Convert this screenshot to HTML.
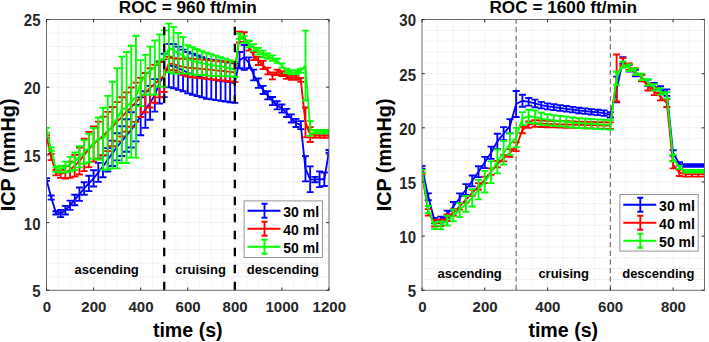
<!DOCTYPE html><html><head><meta charset="utf-8"><style>html,body{margin:0;padding:0;background:#fff;width:709px;height:342px;overflow:hidden}svg{display:block}text{font-family:"Liberation Sans", sans-serif;font-weight:bold}</style></head><body>
<svg width="709" height="342" viewBox="0 0 709 342">
<rect width="709" height="342" fill="#fff"/>
<clipPath id="clipL"><rect x="46.5" y="19.5" width="282.5" height="270.8"/></clipPath>
<path d="M58.27 19.5V290.3M70.04 19.5V290.3M81.81 19.5V290.3M93.58 19.5V290.3M105.35 19.5V290.3M117.12 19.5V290.3M128.9 19.5V290.3M140.67 19.5V290.3M152.44 19.5V290.3M164.21 19.5V290.3M175.98 19.5V290.3M187.75 19.5V290.3M199.52 19.5V290.3M211.29 19.5V290.3M223.06 19.5V290.3M234.83 19.5V290.3M246.6 19.5V290.3M258.38 19.5V290.3M270.15 19.5V290.3M281.92 19.5V290.3M293.69 19.5V290.3M305.46 19.5V290.3M317.23 19.5V290.3" stroke="#e4e4e4" stroke-width="0.8" stroke-dasharray="0.9 1.2" fill="none"/>
<path d="M46.5 276.76H329M46.5 263.22H329M46.5 249.68H329M46.5 236.14H329M46.5 222.6H329M46.5 209.06H329M46.5 195.52H329M46.5 181.98H329M46.5 168.44H329M46.5 154.9H329M46.5 141.36H329M46.5 127.82H329M46.5 114.28H329M46.5 100.74H329M46.5 87.2H329M46.5 73.66H329M46.5 60.12H329M46.5 46.58H329M46.5 33.04H329" stroke="#d6d6d6" stroke-width="0.8" stroke-dasharray="0.9 1.4" fill="none"/>
<g clip-path="url(#clipL)" fill="none" stroke-width="1.85">
<path d="M46.5 178.19V180.9M43 178.19h7M43 180.9h7M51.21 195.52V199.58M47.71 195.52h7M47.71 199.58h7M55.92 211.23V214.48M52.42 211.23h7M52.42 214.48h7M60.62 209.87V217.18M57.12 209.87h7M57.12 217.18h7M65.33 205.81V214.48M61.83 205.81h7M61.83 214.48h7M70.04 200.67V209.87M66.54 200.67h7M66.54 209.87h7M74.75 194.71V205.27M71.25 194.71h7M71.25 205.27h7M79.46 187.53V200.8M75.96 187.53h7M75.96 200.8h7M84.17 182.25V194.71M80.67 182.25h7M80.67 194.71h7M88.88 175.75V191.19M85.38 175.75h7M85.38 191.19h7M93.58 170.2V186.45M90.08 170.2h7M90.08 186.45h7M98.29 162.89V181.84M94.79 162.89h7M94.79 181.84h7M103 155.58V177.24M99.5 155.58h7M99.5 177.24h7M107.71 148.13V171.6M104.21 148.13h7M104.21 171.6h7M112.42 140.68V165.96M108.92 140.68h7M108.92 165.96h7M117.12 133.24V160.32M113.62 133.24h7M113.62 160.32h7M121.83 126.24V156.03M118.33 126.24h7M118.33 156.03h7M126.54 119.24V151.74M123.04 119.24h7M123.04 151.74h7M131.25 112.25V147.45M127.75 112.25h7M127.75 147.45h7M135.96 104.8V141.36M132.46 104.8h7M132.46 141.36h7M140.67 97.36V135.27M137.17 97.36h7M137.17 135.27h7M145.38 91.26V127.82M141.88 91.26h7M141.88 127.82h7M150.08 85.85V119.7M146.58 85.85h7M146.58 119.7h7M154.79 79.08V111.57M151.29 79.08h7M151.29 111.57h7M159.5 61.47V103.45M156 61.47h7M156 103.45h7M164.21 53.76V97.08M160.71 53.76h7M160.71 97.08h7M168.92 43.87V87.2M165.42 43.87h7M165.42 87.2h7M173.62 44.14V88.28M170.12 44.14h7M170.12 88.28h7M178.33 46.58V89.91M174.83 46.58h7M174.83 89.91h7M183.04 49.56V91.26M179.54 49.56h7M179.54 91.26h7M187.75 52V93.43M184.25 52h7M184.25 93.43h7M192.46 53.69V94.71M188.96 53.69h7M188.96 94.71h7M197.17 55.38V96M193.67 55.38h7M193.67 96h7M201.88 57.14V97.36M198.38 57.14h7M198.38 97.36h7M206.58 58.9V98.71M203.08 58.9h7M203.08 98.71h7M211.29 59.65V99.41M207.79 59.65h7M207.79 99.41h7M216 60.39V100.11M212.5 60.39h7M212.5 100.11h7M220.71 61.14V100.81M217.21 61.14h7M217.21 100.81h7M225.42 61.88V101.51M221.92 61.88h7M221.92 101.51h7M230.12 62.62V102.21M226.62 62.62h7M226.62 102.21h7M234.83 63.37V102.91M231.33 63.37h7M231.33 102.91h7M239.54 52V68.24M236.04 52h7M236.04 68.24h7M244.25 44.96V69.87M240.75 44.96h7M240.75 69.87h7M248.96 57.41V68.24M245.46 57.41h7M245.46 68.24h7M253.67 69.6V80.43M250.17 69.6h7M250.17 80.43h7M258.38 78.4V87.88M254.88 78.4h7M254.88 87.88h7M263.08 85.85V93.97M259.58 85.85h7M259.58 93.97h7M267.79 91.26V99.39M264.29 91.26h7M264.29 99.39h7M272.5 96.95V105.07M269 96.95h7M269 105.07h7M277.21 101.28V109.41M273.71 101.28h7M273.71 109.41h7M281.92 104.53V112.66M278.42 104.53h7M278.42 112.66h7M286.62 108.86V116.99M283.12 108.86h7M283.12 116.99h7M291.33 114.42V122.54M287.83 114.42h7M287.83 122.54h7M296.04 118.88V127.01M292.54 118.88h7M292.54 127.01h7M300.75 121.05V129.17M297.25 121.05h7M297.25 129.17h7M305.46 156.12V181.3M301.96 156.12h7M301.96 181.3h7M310.17 166.41V192.13M306.67 166.41h7M306.67 192.13h7M314.88 176.83V182.25M311.38 176.83h7M311.38 182.25h7M319.58 171.42V187.13M316.08 171.42h7M316.08 187.13h7M324.29 172.5V186.04M320.79 172.5h7M320.79 186.04h7M329 150.03V152.73M325.5 150.03h7M325.5 152.73h7" stroke="#0000ff"/>
<polyline points="46.5,179.54 51.21,197.55 55.92,212.85 60.62,213.53 65.33,210.14 70.04,205.27 74.75,199.99 79.46,194.17 84.17,188.48 88.88,183.47 93.58,178.32 98.29,172.37 103,166.41 107.71,159.86 112.42,153.32 117.12,146.78 121.83,141.13 126.54,135.49 131.25,129.85 135.96,123.08 140.67,116.31 145.38,109.54 150.08,102.77 154.79,95.32 159.5,82.46 164.21,75.42 168.92,65.54 173.62,66.21 178.33,68.24 183.04,70.41 187.75,72.71 192.46,74.2 197.17,75.69 201.88,77.25 206.58,78.81 211.29,79.53 216,80.25 220.71,80.97 225.42,81.69 230.12,82.42 234.83,83.14 239.54,60.12 244.25,57.41 248.96,62.83 253.67,75.01 258.38,83.14 263.08,89.91 267.79,95.32 272.5,101.01 277.21,105.34 281.92,108.59 286.62,112.93 291.33,118.48 296.04,122.95 300.75,125.11 305.46,168.71 310.17,179.27 314.88,179.54 319.58,179.27 324.29,179.27 329,151.38" stroke="#0000ff" stroke-linejoin="round"/>
<path d="M46.5 135.27V137.98M43 135.27h7M43 137.98h7M51.21 153.82V160.05M47.71 153.82h7M47.71 160.05h7M55.92 169.93V175.35M52.42 169.93h7M52.42 175.35h7M60.62 169.79V177.92M57.12 169.79h7M57.12 177.92h7M65.33 166.41V178.6M61.83 166.41h7M61.83 178.6h7M70.04 161.67V177.92M66.54 161.67h7M66.54 177.92h7M74.75 154.9V176.56M71.25 154.9h7M71.25 176.56h7M79.46 147.45V174.53M75.96 147.45h7M75.96 174.53h7M84.17 138.65V171.15M80.67 138.65h7M80.67 171.15h7M88.88 131.88V167.09M85.38 131.88h7M85.38 167.09h7M93.58 126.47V161.67M90.08 126.47h7M90.08 161.67h7M98.29 121.59V158.42M94.79 121.59h7M94.79 158.42h7M103 116.72V155.17M99.5 116.72h7M99.5 155.17h7M107.71 111.84V151.11M104.21 111.84h7M104.21 151.11h7M112.42 106.97V146.23M108.92 106.97h7M108.92 146.23h7M117.12 102.09V141.36M113.62 102.09h7M113.62 141.36h7M121.83 97.22V136.49M118.33 97.22h7M118.33 136.49h7M126.54 92.35V131.61M123.04 92.35h7M123.04 131.61h7M131.25 87.47V126.74M127.75 87.47h7M127.75 126.74h7M135.96 82.6V121.86M132.46 82.6h7M132.46 121.86h7M140.67 77.72V116.99M137.17 77.72h7M137.17 116.99h7M145.38 72.98V112.25M141.88 72.98h7M141.88 112.25h7M150.08 68.24V107.51M146.58 68.24h7M146.58 107.51h7M154.79 64.86V102.77M151.29 64.86h7M151.29 102.77h7M159.5 62.15V97.36M156 62.15h7M156 97.36h7M164.21 59.44V91.94M160.71 59.44h7M160.71 91.94h7M168.92 56.74V70.28M165.42 56.74h7M165.42 70.28h7M173.62 58.09V70.28M170.12 58.09h7M170.12 70.28h7M178.33 58.77V72.31M174.83 58.77h7M174.83 72.31h7M183.04 58.77V75.01M179.54 58.77h7M179.54 75.01h7M187.75 58.5V76.64M184.25 58.5h7M184.25 76.64h7M192.46 58.81V77.23M188.96 58.81h7M188.96 77.23h7M197.17 59.13V77.81M193.67 59.13h7M193.67 77.81h7M201.88 59.44V78.4M198.38 59.44h7M198.38 78.4h7M206.58 59.89V78.92M203.08 59.89h7M203.08 78.92h7M211.29 60.33V79.44M207.79 60.33h7M207.79 79.44h7M216 60.78V79.97M212.5 60.78h7M212.5 79.97h7M220.71 61.22V80.49M217.21 61.22h7M217.21 80.49h7M225.42 61.67V81.01M221.92 61.67h7M221.92 81.01h7M230.12 62.11V81.53M226.62 62.11h7M226.62 81.53h7M234.83 62.56V82.05M231.33 62.56h7M231.33 82.05h7M239.54 31.69V42.52M236.04 31.69h7M236.04 42.52h7M244.25 32.23V41.98M240.75 32.23h7M240.75 41.98h7M248.96 41.16V50.64M245.46 41.16h7M245.46 50.64h7M253.67 52V60.12M250.17 52h7M250.17 60.12h7M258.38 56.87V64.99M254.88 56.87h7M254.88 64.99h7M263.08 60.93V69.06M259.58 60.93h7M259.58 69.06h7M267.79 67.57V74.34M264.29 67.57h7M264.29 74.34h7M272.5 72.31V79.35M269 72.31h7M269 79.35h7M277.21 69.6V75.01M273.71 69.6h7M273.71 75.01h7M281.92 71.22V76.1M278.42 71.22h7M278.42 76.1h7M286.62 74.74V78.81M283.12 74.74h7M283.12 78.81h7M291.33 75.69V79.75M287.83 75.69h7M287.83 79.75h7M296.04 75.83V79.89M292.54 75.83h7M292.54 79.89h7M300.75 77.86V81.92M297.25 77.86h7M297.25 81.92h7M305.46 107.51V137.3M301.96 107.51h7M301.96 137.3h7M310.17 127.14V142.04M306.67 127.14h7M306.67 142.04h7M314.88 133.64V137.7M311.38 133.64h7M311.38 137.7h7M319.58 133.64V137.7M316.08 133.64h7M316.08 137.7h7M324.29 133.64V137.7M320.79 133.64h7M320.79 137.7h7M329 133.64V137.7M325.5 133.64h7M325.5 137.7h7" stroke="#ff0000"/>
<polyline points="46.5,136.62 51.21,156.93 55.92,172.64 60.62,173.86 65.33,172.5 70.04,169.79 74.75,165.73 79.46,160.99 84.17,154.9 88.88,149.48 93.58,144.07 98.29,140.01 103,135.94 107.71,131.48 112.42,126.6 117.12,121.73 121.83,116.85 126.54,111.98 131.25,107.1 135.96,102.23 140.67,97.36 145.38,92.62 150.08,87.88 154.79,83.82 159.5,79.75 164.21,75.69 168.92,63.5 173.62,64.18 178.33,65.54 183.04,66.89 187.75,67.57 192.46,68.02 197.17,68.47 201.88,68.92 206.58,69.4 211.29,69.89 216,70.37 220.71,70.86 225.42,71.34 230.12,71.82 234.83,72.31 239.54,37.1 244.25,37.1 248.96,45.9 253.67,56.06 258.38,60.93 263.08,64.99 267.79,70.95 272.5,75.83 277.21,72.31 281.92,73.66 286.62,76.77 291.33,77.72 296.04,77.86 300.75,79.89 305.46,122.4 310.17,134.59 314.88,135.67 319.58,135.67 324.29,135.67 329,135.67" stroke="#ff0000" stroke-linejoin="round"/>
<path d="M46.5 127.82V132.69M43 127.82h7M43 132.69h7M51.21 147.45V150.7M47.71 147.45h7M47.71 150.7h7M55.92 166.95V171.83M52.42 166.95h7M52.42 171.83h7M60.62 165.73V172.5M57.12 165.73h7M57.12 172.5h7M65.33 161.67V172.5M61.83 161.67h7M61.83 172.5h7M70.04 156.8V171.69M66.54 156.8h7M66.54 171.69h7M74.75 152.46V170.06M71.25 152.46h7M71.25 170.06h7M79.46 146.23V167.36M75.96 146.23h7M75.96 167.36h7M84.17 140.14V163.7M80.67 140.14h7M80.67 163.7h7M88.88 133.91V162.35M85.38 133.91h7M85.38 162.35h7M93.58 127.96V158.56M90.08 127.96h7M90.08 158.56h7M98.29 117.53V159.77M94.79 117.53h7M94.79 159.77h7M103 107.78V169.79M99.5 107.78h7M99.5 169.79h7M107.71 95.87V169.79M104.21 95.87h7M104.21 169.79h7M112.42 81.78V168.44M108.92 81.78h7M108.92 168.44h7M117.12 68.24V168.44M113.62 68.24h7M113.62 168.44h7M121.83 56.6V163.02M118.33 56.6h7M118.33 163.02h7M126.54 52V163.02M123.04 52h7M123.04 163.02h7M131.25 45.77V157.61M127.75 45.77h7M127.75 157.61h7M135.96 35.75V157.61M132.46 35.75h7M132.46 157.61h7M140.67 60.12V106.16M137.17 60.12h7M137.17 106.16h7M145.38 54.84V94.65M141.88 54.84h7M141.88 94.65h7M150.08 46.58V94.78M146.58 46.58h7M146.58 94.78h7M154.79 40.49V94.65M151.29 40.49h7M151.29 94.65h7M159.5 34.39V86.66M156 34.39h7M156 86.66h7M164.21 30.33V86.66M160.71 30.33h7M160.71 86.66h7M168.92 23.56V72.31M165.42 23.56h7M165.42 72.31h7M173.62 26.81V73.66M170.12 26.81h7M170.12 73.66h7M178.33 33.04V73.66M174.83 33.04h7M174.83 73.66h7M183.04 37.1V73.66M179.54 37.1h7M179.54 73.66h7M187.75 45.23V73.66M184.25 45.23h7M184.25 73.66h7M192.46 47.26V74.34M188.96 47.26h7M188.96 74.34h7M197.17 49.29V75.01M193.67 49.29h7M193.67 75.01h7M201.88 51.18V75.01M198.38 51.18h7M198.38 75.01h7M206.58 52.67V75.69M203.08 52.67h7M203.08 75.69h7M211.29 54.16V75.83M207.79 54.16h7M207.79 75.83h7M216 55.65V75.96M212.5 55.65h7M212.5 75.96h7M220.71 57.14V76.1M217.21 57.14h7M217.21 76.1h7M225.42 58.63V76.23M221.92 58.63h7M221.92 76.23h7M230.12 60.12V76.37M226.62 60.12h7M226.62 76.37h7M234.83 62.15V77.04M231.33 62.15h7M231.33 77.04h7M239.54 33.45V38.86M236.04 33.45h7M236.04 38.86h7M244.25 36.15V42.92M240.75 36.15h7M240.75 42.92h7M248.96 40.49V47.26M245.46 40.49h7M245.46 47.26h7M253.67 44.14V50.91M250.17 44.14h7M250.17 50.91h7M258.38 47.8V54.57M254.88 47.8h7M254.88 54.57h7M263.08 50.64V57.41M259.58 50.64h7M259.58 57.41h7M267.79 53.35V58.77M264.29 53.35h7M264.29 58.77h7M272.5 55.38V60.8M269 55.38h7M269 60.8h7M277.21 58.77V62.83M273.71 58.77h7M273.71 62.83h7M281.92 63.5V67.57M278.42 63.5h7M278.42 67.57h7M286.62 68.65V72.71M283.12 68.65h7M283.12 72.71h7M291.33 70.28V74.34M287.83 70.28h7M287.83 74.34h7M296.04 70.28V74.34M292.54 70.28h7M292.54 74.34h7M300.75 68.65V72.71M297.25 68.65h7M297.25 72.71h7M305.46 30.6V100.47M301.96 30.6h7M301.96 100.47h7M310.17 121.05V135.94M306.67 121.05h7M306.67 135.94h7M314.88 129.99V133.24M311.38 129.99h7M311.38 133.24h7M319.58 129.99V133.24M316.08 129.99h7M316.08 133.24h7M324.29 129.99V133.24M320.79 129.99h7M320.79 133.24h7M329 129.99V133.24M325.5 129.99h7M325.5 133.24h7" stroke="#00ff00"/>
<polyline points="46.5,130.26 51.21,149.08 55.92,169.39 60.62,169.12 65.33,167.09 70.04,164.24 74.75,161.26 79.46,156.8 84.17,151.92 88.88,148.13 93.58,143.26 98.29,138.65 103,138.79 107.71,132.83 112.42,125.11 117.12,118.34 121.83,109.81 126.54,107.51 131.25,101.69 135.96,96.68 140.67,83.14 145.38,74.74 150.08,70.68 154.79,67.57 159.5,60.53 164.21,58.5 168.92,47.93 173.62,50.24 178.33,53.35 183.04,55.38 187.75,59.44 192.46,60.8 197.17,62.15 201.88,63.1 206.58,64.18 211.29,64.99 216,65.81 220.71,66.62 225.42,67.43 230.12,68.24 234.83,69.6 239.54,36.15 244.25,39.54 248.96,43.87 253.67,47.53 258.38,51.18 263.08,54.03 267.79,56.06 272.5,58.09 277.21,60.8 281.92,65.54 286.62,70.68 291.33,72.31 296.04,72.31 300.75,70.68 305.46,65.54 310.17,128.5 314.88,131.61 319.58,131.61 324.29,131.61 329,131.61" stroke="#00ff00" stroke-linejoin="round"/>
</g>
<line x1="164.21" y1="290.3" x2="164.21" y2="19.5" stroke="#000" stroke-width="2.3" stroke-dasharray="8.5 8.5"/>
<line x1="234.83" y1="290.3" x2="234.83" y2="19.5" stroke="#000" stroke-width="2.3" stroke-dasharray="8.5 8.5"/>
<rect x="46.5" y="19.5" width="282.5" height="270.8" fill="none" stroke="#6e6e6e" stroke-width="1"/>
<path d="M46.5 290.3v-2.8M46.5 19.5v2.8M93.58 290.3v-2.8M93.58 19.5v2.8M140.67 290.3v-2.8M140.67 19.5v2.8M187.75 290.3v-2.8M187.75 19.5v2.8M234.83 290.3v-2.8M234.83 19.5v2.8M281.92 290.3v-2.8M281.92 19.5v2.8M329 290.3v-2.8M329 19.5v2.8M46.5 290.3h2.8M329 290.3h-2.8M46.5 222.6h2.8M329 222.6h-2.8M46.5 154.9h2.8M329 154.9h-2.8M46.5 87.2h2.8M329 87.2h-2.8M46.5 19.5h2.8M329 19.5h-2.8" stroke="#262626" stroke-width="1" fill="none"/>
<text transform="translate(46.8 311.5)" font-size="15" text-anchor="middle" fill="#262626">0</text>
<text transform="translate(93.88 311.5)" font-size="15" text-anchor="middle" fill="#262626">200</text>
<text transform="translate(140.97 311.5)" font-size="15" text-anchor="middle" fill="#262626">400</text>
<text transform="translate(188.05 311.5)" font-size="15" text-anchor="middle" fill="#262626">600</text>
<text transform="translate(235.13 311.5)" font-size="15" text-anchor="middle" fill="#262626">800</text>
<text transform="translate(282.22 311.5)" font-size="15" text-anchor="middle" fill="#262626">1000</text>
<text transform="translate(329.3 311.5)" font-size="15" text-anchor="middle" fill="#262626">1200</text>
<text transform="translate(40.5 297.2) scale(1 1.05)" font-size="15" text-anchor="end" fill="#262626">5</text>
<text transform="translate(40.5 229.5) scale(1 1.05)" font-size="15" text-anchor="end" fill="#262626">10</text>
<text transform="translate(40.5 161.8) scale(1 1.05)" font-size="15" text-anchor="end" fill="#262626">15</text>
<text transform="translate(40.5 94.1) scale(1 1.05)" font-size="15" text-anchor="end" fill="#262626">20</text>
<text transform="translate(40.5 26.4) scale(1 1.05)" font-size="15" text-anchor="end" fill="#262626">25</text>
<text x="187.75" y="13.4" font-size="17.2" text-anchor="middle" fill="#000">ROC = 960 ft/min</text>
<text x="187.75" y="336.6" font-size="19.6" text-anchor="middle" fill="#000">time (s)</text>
<text transform="translate(15.3 154.9) rotate(-90)" x="0" y="0" font-size="19.8" text-anchor="middle" fill="#000">ICP (mmHg)</text>
<text x="74.5" y="273.9" font-size="13" fill="#000">ascending</text>
<text x="175.3" y="273.9" font-size="13" fill="#000">cruising</text>
<text x="246.7" y="273.9" font-size="13" fill="#000">descending</text>
<rect x="244.1" y="200.9" width="78.3" height="56.6" fill="#fff" stroke="#8a8a8a" stroke-width="0.9"/>
<path d="M247.5 210.8h33M264.5 203.8v14M261.5 203.8h6M261.5 217.8h6" stroke="#0000ff" stroke-width="1.9" fill="none"/>
<text x="283.3" y="216.6" font-size="14" fill="#000">30 ml</text>
<path d="M247.5 228.8h33M264.5 221.8v14M261.5 221.8h6M261.5 235.8h6" stroke="#ff0000" stroke-width="1.9" fill="none"/>
<text x="283.3" y="234.6" font-size="14" fill="#000">40 ml</text>
<path d="M247.5 246.8h33M264.5 239.8v14M261.5 239.8h6M261.5 253.8h6" stroke="#00ff00" stroke-width="1.9" fill="none"/>
<text x="283.3" y="252.6" font-size="14" fill="#000">50 ml</text>
<clipPath id="clipR"><rect x="422" y="19.5" width="282.5" height="270.8"/></clipPath>
<path d="M437.69 19.5V290.3M453.39 19.5V290.3M469.08 19.5V290.3M484.78 19.5V290.3M500.47 19.5V290.3M516.17 19.5V290.3M531.86 19.5V290.3M547.56 19.5V290.3M563.25 19.5V290.3M578.94 19.5V290.3M594.64 19.5V290.3M610.33 19.5V290.3M626.03 19.5V290.3M641.72 19.5V290.3M657.42 19.5V290.3M673.11 19.5V290.3M688.81 19.5V290.3" stroke="#e4e4e4" stroke-width="0.8" stroke-dasharray="0.9 1.2" fill="none"/>
<path d="M422 279.47H704.5M422 268.64H704.5M422 257.8H704.5M422 246.97H704.5M422 236.14H704.5M422 225.31H704.5M422 214.48H704.5M422 203.64H704.5M422 192.81H704.5M422 181.98H704.5M422 171.15H704.5M422 160.32H704.5M422 149.48H704.5M422 138.65H704.5M422 127.82H704.5M422 116.99H704.5M422 106.16H704.5M422 95.32H704.5M422 84.49H704.5M422 73.66H704.5M422 62.83H704.5M422 52H704.5M422 41.16H704.5M422 30.33H704.5" stroke="#d6d6d6" stroke-width="0.8" stroke-dasharray="0.9 1.4" fill="none"/>
<line x1="516.17" y1="290.3" x2="516.17" y2="19.5" stroke="#6a6a6a" stroke-width="1.1" stroke-dasharray="5.2 3.4"/>
<line x1="610.33" y1="290.3" x2="610.33" y2="19.5" stroke="#6a6a6a" stroke-width="1.1" stroke-dasharray="5.2 3.4"/>
<g clip-path="url(#clipR)" fill="none" stroke-width="1.85">
<path d="M422 165.84V168.66M418.5 165.84h7M418.5 168.66h7M428.28 193.35V200.29M424.78 193.35h7M424.78 200.29h7M434.56 217.94V223.36M431.06 217.94h7M431.06 223.36h7M440.83 216.64V223.14M437.33 216.64h7M437.33 223.14h7M447.11 210.68V218.27M443.61 210.68h7M443.61 218.27h7M453.39 202.02V210.68M449.89 202.02h7M449.89 210.68h7M459.67 193.35V203.1M456.17 193.35h7M456.17 203.1h7M465.94 184.15V194.98M462.44 184.15h7M462.44 194.98h7M472.22 175.48V186.31M468.72 175.48h7M468.72 186.31h7M478.5 166.27V177.11M475 166.27h7M475 177.11h7M484.78 156.85V168.12M481.28 156.85h7M481.28 168.12h7M491.06 146.56V158.91M487.56 146.56h7M487.56 158.91h7M497.33 133.78V148.94M493.83 133.78h7M493.83 148.94h7M503.61 127.17V140.17M500.11 127.17h7M500.11 140.17h7M509.89 119.15V133.24M506.39 119.15h7M506.39 133.24h7M516.17 90.99V116.99M512.67 90.99h7M512.67 116.99h7M522.44 94.78V106.7M518.94 94.78h7M518.94 106.7h7M528.72 98.03V105.61M525.22 98.03h7M525.22 105.61h7M535 99.66V107.24M531.5 99.66h7M531.5 107.24h7M541.28 101.93V108.43M537.78 101.93h7M537.78 108.43h7M547.56 103.34V109.41M544.06 103.34h7M544.06 109.41h7M553.83 104.23V110.16M550.33 104.23h7M550.33 110.16h7M560.11 105.12V110.92M556.61 105.12h7M556.61 110.92h7M566.39 106V111.68M562.89 106h7M562.89 111.68h7M572.67 106.89V112.44M569.17 106.89h7M569.17 112.44h7M578.94 107.78V113.2M575.44 107.78h7M575.44 113.2h7M585.22 108.43V113.85M581.72 108.43h7M581.72 113.85h7M591.5 109.08V114.5M588 109.08h7M588 114.5h7M597.78 109.73V115.15M594.28 109.73h7M594.28 115.15h7M604.06 110.38V115.8M600.56 110.38h7M600.56 115.8h7M610.33 112.11V117.53M606.83 112.11h7M606.83 117.53h7M616.61 76.69V102.26M613.11 76.69h7M613.11 102.26h7M622.89 57.09V63.59M619.39 57.09h7M619.39 63.59h7M629.17 64.99V71.49M625.67 64.99h7M625.67 71.49h7M635.44 69.87V76.37M631.94 69.87h7M631.94 76.37h7M641.72 74.53V81.03M638.22 74.53h7M638.22 81.03h7M648 79.62V86.12M644.5 79.62h7M644.5 86.12h7M654.28 82.87V89.37M650.78 82.87h7M650.78 89.37h7M660.56 86.12V92.62M657.06 86.12h7M657.06 92.62h7M666.83 89.37V95.87M663.33 89.37h7M663.33 95.87h7M673.11 150.24V155.87M669.61 150.24h7M669.61 155.87h7M679.39 162.27V165.52M675.89 162.27h7M675.89 165.52h7M685.67 164.22V166.82M682.17 164.22h7M682.17 166.82h7M691.94 164.22V166.82M688.44 164.22h7M688.44 166.82h7M698.22 164.22V166.82M694.72 164.22h7M694.72 166.82h7M704.5 164.22V166.82M701 164.22h7M701 166.82h7" stroke="#0000ff"/>
<polyline points="422,167.25 428.28,196.82 434.56,220.65 440.83,219.89 447.11,214.48 453.39,206.35 459.67,198.23 465.94,189.56 472.22,180.9 478.5,171.69 484.78,162.48 491.06,152.73 497.33,141.36 503.61,133.67 509.89,126.2 516.17,103.99 522.44,100.74 528.72,101.82 535,103.45 541.28,105.18 547.56,106.37 553.83,107.2 560.11,108.02 566.39,108.84 572.67,109.67 578.94,110.49 585.22,111.14 591.5,111.79 597.78,112.44 604.06,113.09 610.33,114.82 616.61,89.47 622.89,60.34 629.17,68.24 635.44,73.12 641.72,77.78 648,82.87 654.28,86.12 660.56,89.37 666.83,92.62 673.11,153.06 679.39,163.89 685.67,165.52 691.94,165.52 698.22,165.52 704.5,165.52" stroke="#0000ff" stroke-linejoin="round"/>
<path d="M422 172.34V174.51M418.5 172.34h7M418.5 174.51h7M428.28 209.06V215.56M424.78 209.06h7M424.78 215.56h7M434.56 220V226.5M431.06 220h7M431.06 226.5h7M440.83 219.46V225.96M437.33 219.46h7M437.33 225.96h7M447.11 214.48V220.98M443.61 214.48h7M443.61 220.98h7M453.39 209.06V215.56M449.89 209.06h7M449.89 215.56h7M459.67 203.1V209.6M456.17 203.1h7M456.17 209.6h7M465.94 196.06V202.56M462.44 196.06h7M462.44 202.56h7M472.22 189.56V196.06M468.72 189.56h7M468.72 196.06h7M478.5 183.06V189.56M475 183.06h7M475 189.56h7M484.78 176.56V183.06M481.28 176.56h7M481.28 183.06h7M491.06 168.33V174.83M487.56 168.33h7M487.56 174.83h7M497.33 160.86V167.36M493.83 160.86h7M493.83 167.36h7M503.61 154.9V161.4M500.11 154.9h7M500.11 161.4h7M509.89 149.16V156.74M506.39 149.16h7M506.39 156.74h7M516.17 142.44V151.11M512.67 142.44h7M512.67 151.11h7M522.44 126.74V133.24M518.94 126.74h7M518.94 133.24h7M528.72 121.32V127.82M525.22 121.32h7M525.22 127.82h7M535 120.24V126.74M531.5 120.24h7M531.5 126.74h7M541.28 120.51V127.01M537.78 120.51h7M537.78 127.01h7M547.56 120.78V127.28M544.06 120.78h7M544.06 127.28h7M553.83 120.94V127.44M550.33 120.94h7M550.33 127.44h7M560.11 121.1V127.6M556.61 121.1h7M556.61 127.6h7M566.39 121.27V127.77M562.89 121.27h7M562.89 127.77h7M572.67 121.43V127.93M569.17 121.43h7M569.17 127.93h7M578.94 121.59V128.09M575.44 121.59h7M575.44 128.09h7M585.22 121.75V128.25M581.72 121.75h7M581.72 128.25h7M591.5 121.92V128.42M588 121.92h7M588 128.42h7M597.78 122.08V128.58M594.28 122.08h7M594.28 128.58h7M604.06 122.24V128.74M600.56 122.24h7M600.56 128.74h7M610.33 122.4V128.9M606.83 122.4h7M606.83 128.9h7M616.61 54.49V101.5M613.11 54.49h7M613.11 101.5h7M622.89 57.95V65.54M619.39 57.95h7M619.39 65.54h7M629.17 63.37V69.87M625.67 63.37h7M625.67 69.87h7M635.44 68.24V74.74M631.94 68.24h7M631.94 74.74h7M641.72 74.74V81.24M638.22 74.74h7M638.22 81.24h7M648 82.87V90.45M644.5 82.87h7M644.5 90.45h7M654.28 87.52V95.11M650.78 87.52h7M650.78 95.11h7M660.56 92.83V100.42M657.06 92.83h7M657.06 100.42h7M666.83 99.44V107.02M663.33 99.44h7M663.33 107.02h7M673.11 160.86V168.44M669.61 160.86h7M669.61 168.44h7M679.39 169.52V176.02M675.89 169.52h7M675.89 176.02h7M685.67 171.58V176.56M682.17 171.58h7M682.17 176.56h7M691.94 171.58V176.56M688.44 171.58h7M688.44 176.56h7M698.22 171.58V176.56M694.72 171.58h7M694.72 176.56h7M704.5 171.58V176.56M701 171.58h7M701 176.56h7" stroke="#ff0000"/>
<polyline points="422,173.42 428.28,212.31 434.56,223.25 440.83,222.71 447.11,217.73 453.39,212.31 459.67,206.35 465.94,199.31 472.22,192.81 478.5,186.31 484.78,179.81 491.06,171.58 497.33,164.11 503.61,158.15 509.89,152.95 516.17,146.78 522.44,129.99 528.72,124.57 535,123.49 541.28,123.76 547.56,124.03 553.83,124.19 560.11,124.35 566.39,124.52 572.67,124.68 578.94,124.84 585.22,125 591.5,125.17 597.78,125.33 604.06,125.49 610.33,125.65 616.61,77.99 622.89,61.74 629.17,66.62 635.44,71.49 641.72,77.99 648,86.66 654.28,91.32 660.56,96.62 666.83,103.23 673.11,164.65 679.39,172.77 685.67,174.07 691.94,174.07 698.22,174.07 704.5,174.07" stroke="#ff0000" stroke-linejoin="round"/>
<path d="M422 169.85V173.1M418.5 169.85h7M418.5 173.1h7M428.28 206.03V213.18M424.78 206.03h7M424.78 213.18h7M434.56 222.6V229.1M431.06 222.6h7M431.06 229.1h7M440.83 221.52V229.1M437.33 221.52h7M437.33 229.1h7M447.11 215.78V225.52M443.61 215.78h7M443.61 225.52h7M453.39 209.49V221.41M449.89 209.49h7M449.89 221.41h7M459.67 203.1V217.18M456.17 203.1h7M456.17 217.18h7M465.94 195.95V211.77M462.44 195.95h7M462.44 211.77h7M472.22 189.13V206.46M468.72 189.13h7M468.72 206.46h7M478.5 179.81V199.31M475 179.81h7M475 199.31h7M484.78 170.82V192.49M481.28 170.82h7M481.28 192.49h7M491.06 161.4V183.06M487.56 161.4h7M487.56 183.06h7M497.33 149.48V173.31M493.83 149.48h7M493.83 173.31h7M503.61 140.82V164.65M500.11 140.82h7M500.11 164.65h7M509.89 133.24V154.9M506.39 133.24h7M506.39 154.9h7M516.17 127.82V147.32M512.67 127.82h7M512.67 147.32h7M522.44 112.11V125.11M518.94 112.11h7M518.94 125.11h7M528.72 109.73V122.73M525.22 109.73h7M525.22 122.73h7M535 110.49V123.49M531.5 110.49h7M531.5 123.49h7M541.28 112.76V124.68M537.78 112.76h7M537.78 124.68h7M547.56 114.28V125.11M544.06 114.28h7M544.06 125.11h7M553.83 115.08V125.7M550.33 115.08h7M550.33 125.7h7M560.11 115.88V126.28M556.61 115.88h7M556.61 126.28h7M566.39 116.68V126.87M562.89 116.68h7M562.89 126.87h7M572.67 117.49V127.45M569.17 117.49h7M569.17 127.45h7M578.94 118.29V128.04M575.44 118.29h7M575.44 128.04h7M585.22 118.66V128.36M581.72 118.66h7M581.72 128.36h7M591.5 119.02V128.69M588 119.02h7M588 128.69h7M597.78 119.39V129.01M594.28 119.39h7M594.28 129.01h7M604.06 119.76V129.34M600.56 119.76h7M600.56 129.34h7M610.33 120.13V129.66M606.83 120.13h7M606.83 129.66h7M616.61 71.71V84.71M613.11 71.71h7M613.11 84.71h7M622.89 61.42V67.92M619.39 61.42h7M619.39 67.92h7M629.17 64.45V70.95M625.67 64.45h7M625.67 70.95h7M635.44 68.35V74.85M631.94 68.35h7M631.94 74.85h7M641.72 73.66V80.16M638.22 73.66h7M638.22 80.16h7M648 79.08V85.58M644.5 79.08h7M644.5 85.58h7M654.28 84.17V90.67M650.78 84.17h7M650.78 90.67h7M660.56 88.07V94.57M657.06 88.07h7M657.06 94.57h7M666.83 92.07V98.57M663.33 92.07h7M663.33 98.57h7M673.11 155.01V161.51M669.61 155.01h7M669.61 161.51h7M679.39 165.62V168.87M675.89 165.62h7M675.89 168.87h7M685.67 169.85V172.45M682.17 169.85h7M682.17 172.45h7M691.94 169.85V172.45M688.44 169.85h7M688.44 172.45h7M698.22 169.85V172.45M694.72 169.85h7M694.72 172.45h7M704.5 169.85V172.45M701 169.85h7M701 172.45h7" stroke="#00ff00"/>
<polyline points="422,171.47 428.28,209.6 434.56,225.85 440.83,225.31 447.11,220.65 453.39,215.45 459.67,210.14 465.94,203.86 472.22,197.79 478.5,189.56 484.78,181.66 491.06,172.23 497.33,161.4 503.61,152.73 509.89,144.07 516.17,137.57 522.44,118.61 528.72,116.23 535,116.99 541.28,118.72 547.56,119.7 553.83,120.39 560.11,121.08 566.39,121.78 572.67,122.47 578.94,123.16 585.22,123.51 591.5,123.86 597.78,124.2 604.06,124.55 610.33,124.9 616.61,78.21 622.89,64.67 629.17,67.7 635.44,71.6 641.72,76.91 648,82.33 654.28,87.42 660.56,91.32 666.83,95.32 673.11,158.26 679.39,167.25 685.67,171.15 691.94,171.15 698.22,171.15 704.5,171.15" stroke="#00ff00" stroke-linejoin="round"/>
</g>
<rect x="422" y="19.5" width="282.5" height="270.8" fill="none" stroke="#6e6e6e" stroke-width="1"/>
<path d="M422 290.3v-2.8M422 19.5v2.8M484.78 290.3v-2.8M484.78 19.5v2.8M547.56 290.3v-2.8M547.56 19.5v2.8M610.33 290.3v-2.8M610.33 19.5v2.8M673.11 290.3v-2.8M673.11 19.5v2.8M422 290.3h2.8M704.5 290.3h-2.8M422 236.14h2.8M704.5 236.14h-2.8M422 181.98h2.8M704.5 181.98h-2.8M422 127.82h2.8M704.5 127.82h-2.8M422 73.66h2.8M704.5 73.66h-2.8M422 19.5h2.8M704.5 19.5h-2.8" stroke="#262626" stroke-width="1" fill="none"/>
<text transform="translate(422.3 311.5)" font-size="15" text-anchor="middle" fill="#262626">0</text>
<text transform="translate(485.08 311.5)" font-size="15" text-anchor="middle" fill="#262626">200</text>
<text transform="translate(547.86 311.5)" font-size="15" text-anchor="middle" fill="#262626">400</text>
<text transform="translate(610.63 311.5)" font-size="15" text-anchor="middle" fill="#262626">600</text>
<text transform="translate(673.41 311.5)" font-size="15" text-anchor="middle" fill="#262626">800</text>
<text transform="translate(416 297.2) scale(1 1.05)" font-size="15" text-anchor="end" fill="#262626">5</text>
<text transform="translate(416 243.04) scale(1 1.05)" font-size="15" text-anchor="end" fill="#262626">10</text>
<text transform="translate(416 188.88) scale(1 1.05)" font-size="15" text-anchor="end" fill="#262626">15</text>
<text transform="translate(416 134.72) scale(1 1.05)" font-size="15" text-anchor="end" fill="#262626">20</text>
<text transform="translate(416 80.56) scale(1 1.05)" font-size="15" text-anchor="end" fill="#262626">25</text>
<text transform="translate(416 26.4) scale(1 1.05)" font-size="15" text-anchor="end" fill="#262626">30</text>
<text x="563.25" y="13.4" font-size="17.2" text-anchor="middle" fill="#000">ROC = 1600 ft/min</text>
<text x="563.25" y="336.6" font-size="19.6" text-anchor="middle" fill="#000">time (s)</text>
<text transform="translate(390.8 154.9) rotate(-90)" x="0" y="0" font-size="19.8" text-anchor="middle" fill="#000">ICP (mmHg)</text>
<text x="437.5" y="277.8" font-size="13" fill="#000">ascending</text>
<text x="538.4" y="277.8" font-size="13" fill="#000">cruising</text>
<text x="622.2" y="277.8" font-size="13" fill="#000">descending</text>
<rect x="619.9" y="194.5" width="78.3" height="56.6" fill="#fff" stroke="#8a8a8a" stroke-width="0.9"/>
<path d="M623.3 204.8h33M640.3 197.8v14M637.3 197.8h6M637.3 211.8h6" stroke="#0000ff" stroke-width="1.9" fill="none"/>
<text x="659.1" y="211.4" font-size="14" fill="#000">30 ml</text>
<path d="M623.3 222.8h33M640.3 215.8v14M637.3 215.8h6M637.3 229.8h6" stroke="#ff0000" stroke-width="1.9" fill="none"/>
<text x="659.1" y="229.4" font-size="14" fill="#000">40 ml</text>
<path d="M623.3 240.8h33M640.3 233.8v14M637.3 233.8h6M637.3 247.8h6" stroke="#00ff00" stroke-width="1.9" fill="none"/>
<text x="659.1" y="247.4" font-size="14" fill="#000">50 ml</text>
</svg></body></html>
